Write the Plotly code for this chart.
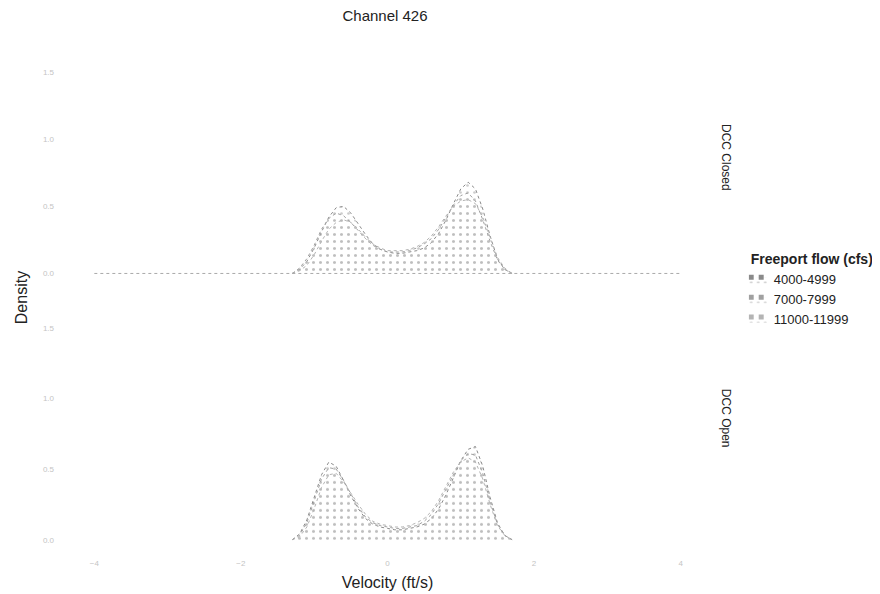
import plotly.graph_objects as go
from plotly.subplots import make_subplots

# velocity grid (ft/s)
velocity = [-1.3, -1.2, -1.1, -1.0, -0.9, -0.8, -0.7, -0.6, -0.5, -0.4, -0.3,
            -0.2, -0.1, 0.0, 0.1, 0.2, 0.3, 0.4, 0.5, 0.6, 0.7, 0.8, 0.9,
            1.0, 1.1, 1.2, 1.3, 1.4, 1.5, 1.6, 1.7]

flows = ["4000-4999", "7000-7999", "11000-11999"]
panels = ["DCC Closed", "DCC Open"]

# densities, DCC Closed
closed_4000 = [0.0, 0.03, 0.09, 0.19, 0.31, 0.42, 0.49, 0.50, 0.45, 0.37, 0.29,
               0.22, 0.18, 0.16, 0.15, 0.15, 0.16, 0.17, 0.19, 0.23, 0.30, 0.40,
               0.52, 0.63, 0.68, 0.63, 0.48, 0.28, 0.11, 0.03, 0.0]
closed_7000 = [0.0, 0.04, 0.11, 0.21, 0.33, 0.41, 0.45, 0.43, 0.38, 0.32, 0.26,
               0.21, 0.18, 0.16, 0.16, 0.16, 0.17, 0.19, 0.22, 0.26, 0.33, 0.42,
               0.51, 0.58, 0.60, 0.54, 0.40, 0.24, 0.10, 0.03, 0.0]
closed_11000 = [0.0, 0.02, 0.06, 0.14, 0.24, 0.33, 0.38, 0.40, 0.38, 0.33, 0.27,
                0.22, 0.19, 0.17, 0.17, 0.17, 0.18, 0.20, 0.23, 0.28, 0.35, 0.43,
                0.50, 0.54, 0.55, 0.52, 0.42, 0.27, 0.12, 0.04, 0.0]

# densities, DCC Open
open_4000 = [0.0, 0.04, 0.14, 0.30, 0.46, 0.55, 0.52, 0.42, 0.31, 0.22, 0.15,
             0.11, 0.09, 0.08, 0.07, 0.07, 0.08, 0.09, 0.11, 0.15, 0.22, 0.32,
             0.44, 0.56, 0.64, 0.66, 0.52, 0.30, 0.12, 0.03, 0.0]
open_7000 = [0.0, 0.03, 0.12, 0.27, 0.43, 0.51, 0.50, 0.42, 0.32, 0.23, 0.16,
             0.12, 0.10, 0.09, 0.08, 0.08, 0.09, 0.10, 0.13, 0.18, 0.26, 0.36,
             0.47, 0.56, 0.61, 0.60, 0.47, 0.27, 0.11, 0.03, 0.0]
open_11000 = [0.0, 0.02, 0.09, 0.22, 0.37, 0.46, 0.47, 0.41, 0.33, 0.25, 0.18,
              0.13, 0.11, 0.10, 0.09, 0.09, 0.10, 0.12, 0.15, 0.20, 0.28, 0.38,
              0.48, 0.55, 0.58, 0.55, 0.43, 0.25, 0.10, 0.03, 0.0]

x_ticks = [-4, -2, 0, 2, 4]
y_ticks = [0.0, 0.5, 1.0, 1.5]
y_ticklabels = ["0.0", "0.5", "1.0", "1.5"]

data = {
    "DCC Closed": [closed_4000, closed_7000, closed_11000],
    "DCC Open": [open_4000, open_7000, open_11000],
}

fill_fg = ["#9a9a9a", "#adadad", "#c0c0c0"]
line_col = ["#8a8a8a", "#a0a0a0", "#b4b4b4"]

fig = make_subplots(rows=2, cols=1, shared_xaxes=True)

for r, panel in enumerate(panels, start=1):
    for i, flow in enumerate(flows):
        fig.add_trace(go.Scatter(
            x=velocity, y=data[panel][i], name=flow,
            mode="lines", fill="tozeroy",
            line=dict(color=line_col[i], width=1, dash="dot"),
            fillcolor="rgba(255,255,255,0)",
            fillpattern=dict(shape=".", fgcolor=fill_fg[i], bgcolor="rgba(255,255,255,0)",
                             size=7, solidity=0.12),
            legendgroup=flow, showlegend=(r == 1),
        ), row=r, col=1)

# dotted baseline in the top panel
fig.add_shape(type="line", x0=-4, x1=4, y0=0, y1=0, xref="x", yref="y",
              line=dict(color="#aaa", width=1, dash="dot"))

tickfont = dict(family="Liberation Sans, Arial", size=8, color="#c4c4c4")
for ax in ["xaxis", "xaxis2"]:
    fig.layout[ax].update(range=[-4.4, 4.4], tickvals=x_ticks, showgrid=False,
                          zeroline=False, showline=False, ticks="",
                          tickfont=tickfont, domain=[0, 1])
fig.layout.xaxis2.update(ticklabelstandoff=6)
fig.layout.yaxis.update(domain=[0.539, 1.0])
fig.layout.yaxis2.update(domain=[0.0, 0.485])
for ax in ["yaxis", "yaxis2"]:
    fig.layout[ax].update(range=[-0.08, 1.62], tickvals=y_ticks, ticktext=y_ticklabels,
                          showgrid=False, zeroline=False, showline=False, ticks="",
                          tickfont=tickfont, ticklabelstandoff=10)

fig.update_xaxes(title_text="Velocity (ft/s)", row=2, col=1,
                 title_font=dict(size=16, color="#222"), title_standoff=9)

# strip labels
for panel, yd in [("DCC Closed", fig.layout.yaxis.domain), ("DCC Open", fig.layout.yaxis2.domain)]:
    fig.add_annotation(text=panel, xref="paper", yref="paper", x=1.012,
                       y=(yd[0] + yd[1]) / 2 + 0.025, xanchor="left", yanchor="middle",
                       textangle=90, showarrow=False,
                       font=dict(size=12, color="#222"))

fig.add_annotation(text="Density", xref="paper", yref="paper", x=-0.068, y=0.511,
                   textangle=-90, showarrow=False, xanchor="center", yanchor="middle",
                   font=dict(size=16, color="#222"))

fig.update_layout(
    width=880, height=594,
    margin=dict(l=57, r=176, t=48, b=51),
    paper_bgcolor="white", plot_bgcolor="white",
    font=dict(family="Liberation Sans, Arial", color="#222"),
    title=dict(text="Channel 426", x=377 / 880, xanchor="center",
               y=1 - 8 / 594, yanchor="middle",
               font=dict(size=15, color="#222")),
    legend=dict(title=dict(text="<b>Freeport flow (cfs)</b>", font=dict(size=14)),
                x=1.06, y=0.527, xanchor="left", yanchor="middle",
                font=dict(size=13), tracegroupgap=0, itemsizing="constant",
                indentation=-15),
)

fig.write_html("out.html")
